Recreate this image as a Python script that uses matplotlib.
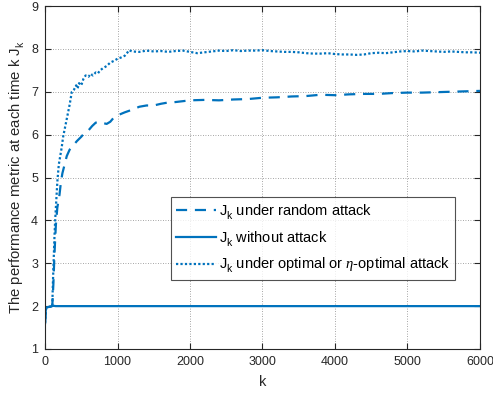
import matplotlib
matplotlib.use("Agg")
import matplotlib.pyplot as plt
import matplotlib._mathtext as _mt

plt.rcParams['font.family'] = ['Liberation Sans', 'DejaVu Sans']
plt.rcParams['mathtext.fontset'] = 'custom'
plt.rcParams['mathtext.rm'] = 'Liberation Sans'
plt.rcParams['mathtext.it'] = 'Liberation Serif:italic'
# lower subscripts (MATLAB-like)
_mt.FontConstantsBase.sub1 = 0.65
_mt.FontConstantsBase.sub2 = 0.75

# optimal / eta-optimal attack (dotted)
k_opt = [0, 5, 10, 20, 50, 80, 100, 110, 120, 130, 140, 150, 170, 190, 210, 230, 250, 280, 310,
         340, 370, 400, 430, 450, 470, 500, 530, 560, 600, 630, 660, 700, 730, 760, 800, 850, 900,
         950, 1000, 1050, 1100, 1130, 1160, 1200, 1300, 1400, 1500, 1600, 1700, 1800, 1900, 2000,
         2100, 2200, 2300, 2400, 2500, 2600, 2700, 2800, 2900, 3000, 3100, 3200, 3300, 3400, 3500,
         3600, 3700, 3800, 3900, 4000, 4100, 4200, 4300, 4400, 4500, 4600, 4700, 4800, 4900, 5000,
         5100, 5200, 5300, 5400, 5500, 5600, 5700, 5800, 5900, 6000]
J_opt = [1.6, 1.75, 1.9, 1.97, 1.98, 1.99, 2.0, 2.6, 3.1, 3.6, 4.0, 4.3, 4.9, 5.3, 5.5, 5.7,
         5.95, 6.2, 6.45, 6.7, 7.0, 7.05, 7.15, 7.08, 7.2, 7.15, 7.3, 7.38, 7.35, 7.42, 7.38, 7.45,
         7.43, 7.5, 7.55, 7.6, 7.68, 7.72, 7.77, 7.8, 7.84, 7.9, 7.97, 7.94, 7.93, 7.96, 7.94, 7.95,
         7.93, 7.95, 7.96, 7.93, 7.9, 7.92, 7.94, 7.96, 7.95, 7.97, 7.95, 7.96, 7.96, 7.97, 7.95,
         7.94, 7.93, 7.93, 7.92, 7.9, 7.89, 7.89, 7.9, 7.88, 7.87, 7.87, 7.86, 7.87, 7.9, 7.91, 7.9,
         7.92, 7.94, 7.95, 7.94, 7.96, 7.95, 7.94, 7.93, 7.94, 7.93, 7.92, 7.92, 7.91]

# random attack (dashed)
k_rand = [0, 5, 10, 20, 50, 80, 100, 115, 130, 150, 170, 200, 220, 240, 270, 300, 340, 390, 440,
          500, 550, 600, 650, 700, 750, 800, 850, 900, 950, 1000, 1100, 1200, 1300, 1400, 1500,
          1600, 1700, 1800, 1900, 2000, 2200, 2400, 2600, 2800, 3000, 3200, 3400, 3600, 3800,
          4000, 4200, 4400, 4600, 4800, 5000, 5200, 5400, 5600, 5800, 6000]
J_rand = [1.6, 1.75, 1.9, 1.97, 1.98, 1.99, 2.0, 2.5, 3.2, 3.9, 4.3, 4.6, 4.9, 5.1, 5.3, 5.5,
          5.65, 5.75, 5.85, 5.95, 6.05, 6.1, 6.2, 6.28, 6.3, 6.27, 6.25, 6.3, 6.4, 6.45, 6.52,
          6.58, 6.65, 6.68, 6.68, 6.72, 6.75, 6.76, 6.78, 6.8, 6.81, 6.8, 6.82, 6.83, 6.86, 6.87,
          6.89, 6.9, 6.93, 6.92, 6.94, 6.95, 6.95, 6.97, 6.98, 6.98, 6.99, 7.0, 7.01, 7.02]

# without attack (solid)
k_none = [0, 5, 10, 20, 50, 80, 100, 150, 6000]
J_none = [1.6, 1.75, 1.9, 1.97, 1.98, 1.99, 2.01, 2.0, 2.0]

blue = '#0072BD'
dark = '#262626'
fig = plt.figure(figsize=(4.93, 4.01), dpi=100)
ax = fig.add_axes([0.0913, 0.1297, 0.8823, 0.8553])

ax.plot(k_rand, J_rand, color=blue, lw=1.6, dashes=(5, 3.5),
        label=r'J$_\mathregular{k}$ under random attack')
ax.plot(k_none, J_none, color=blue, lw=1.6, linestyle='-',
        label=r'J$_\mathregular{k}$ without attack')
ax.plot(k_opt, J_opt, color=blue, lw=1.6, dashes=(1, 1),
        label=r'J$_\mathregular{k}$ under optimal or $\eta$-optimal attack')

ax.set_xlim(0, 6000)
ax.set_ylim(1, 9)
ax.set_xticks(range(0, 6001, 1000))
ax.set_yticks(range(1, 10))
ax.tick_params(direction='in', top=True, right=True, labelsize=9, length=4, color=dark,
               labelcolor=dark, pad=5)
ax.grid(True, linestyle=(0, (1, 2)), color='#555555', lw=0.6, alpha=0.7)
for s in ax.spines.values():
    s.set_color(dark)
    s.set_linewidth(0.8)

ax.set_xlabel('k', fontsize=10.5, color=dark, labelpad=5)
ax.set_ylabel(r'The performance metric at each time k J$_\mathregular{k}$', fontsize=10.7,
              color=dark, labelpad=3)

leg = ax.legend(loc='upper left', bbox_to_anchor=(0.2897, 0.443), borderaxespad=0,
                fontsize=10.5, frameon=True, fancybox=False, edgecolor=dark,
                handlelength=2.75, borderpad=0.35, labelspacing=0.5, handletextpad=0.2)
leg.get_frame().set_linewidth(0.8)

fig.savefig('out.png', dpi=100)
